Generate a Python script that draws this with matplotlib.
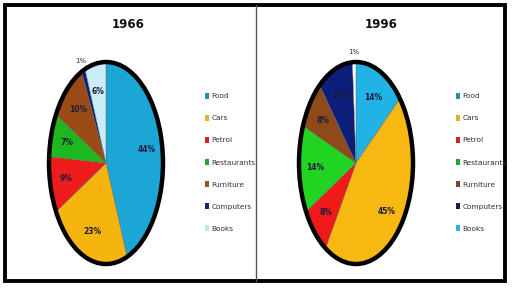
import matplotlib
matplotlib.use("Agg")
import matplotlib.pyplot as plt
from matplotlib.patches import Rectangle, Circle, Patch

categories = ["Food", "Cars", "Petrol", "Restaurants", "Furniture", "Computers", "Books"]
values_1966 = [44, 23, 9, 7, 10, 1, 6]
values_1996 = [14, 45, 8, 14, 8, 10, 1]
titles = ["1966", "1996"]

colors_1966 = ["#1ba6d6", "#f5b50e", "#ee1c1c", "#1eb81e", "#9a4a17", "#0b1e78", "#c9ecf6"]
colors_1996 = ["#22b3e6", "#f7b812", "#f01a1a", "#22d422", "#8f4a1c", "#0b1e7a", "#f4f9fb"]
legend_1966 = ["#1f8fb5", "#e2b32a", "#d32323", "#25a52f", "#9b5428", "#102a72", "#bfe6ee"]
legend_1996 = ["#2b8aa6", "#e3b02e", "#cf2323", "#26a332", "#7c4428", "#14205e", "#2bb6dc"]

W, H = 512, 288
fig = plt.figure(figsize=(W / 100, H / 100), dpi=100)
fig.patch.set_facecolor("white")

FONT = ["DejaVu Sans"]

def px_axes(cx, cy, rx, ry, pad=1.15):
    w = 2 * rx * pad
    h = 2 * ry * pad
    return fig.add_axes([(cx - w / 2) / W, (H - cy - h / 2) / H, w / W, h / H])

def draw(cx, title, values, colors, legcolors, legx, title_x):
    ax = px_axes(cx, 163, 57, 101)
    wedges, texts, autotexts = ax.pie(
        values, colors=colors, startangle=90, counterclock=False,
        autopct=lambda p: f"{p:.0f}%", pctdistance=0.72,
        wedgeprops=dict(linewidth=0.3, edgecolor="#666666"),
        textprops=dict(fontsize=5.5, fontweight="bold", color="#1c1c3c", family=FONT))
    ax.set_aspect("auto")
    ax.set_xlim(-1.15, 1.15)
    ax.set_ylim(-1.15, 1.15)
    ax.add_patch(Circle((0, 0), 1.0, fill=False, edgecolor="black", linewidth=3.2, zorder=5))
    for v, t in zip(values, autotexts):
        if v <= 1:
            x, y = t.get_position()
            r = (x * x + y * y) ** 0.5
            t.set_position((x / r * 1.1, y / r * 1.1))
            t.set_fontweight("normal")
            t.set_color("#333333")
            t.set_fontsize(5)
    ax.axis("off")
    fig.text(title_x / W, 1 - 25 / H, title, ha="center", va="center",
             fontsize=8.5, fontweight="bold", family=FONT, color="#111111")
    handles = [Patch(facecolor=c, edgecolor="none") for c in legcolors]
    leg = fig.legend(handles, categories, loc="upper left",
                     bbox_to_anchor=(legx / W, 1 - 93 / H), frameon=False,
                     handlelength=0.6, handleheight=0.8,
                     handletextpad=0.3, labelspacing=2.13, borderpad=0, borderaxespad=0,
                     prop=dict(family=FONT, size=5.3))
    for t in leg.get_texts():
        t.set_color("#333333")

draw(106, titles[0], values_1966, colors_1966, legend_1966, 205, 128)
draw(356, titles[1], values_1996, colors_1996, legend_1996, 456, 381)

# frame and divider
fig.add_artist(Rectangle((5 / W, 7 / H), 500 / W, 276 / H, transform=fig.transFigure,
                         fill=False, edgecolor="black", linewidth=2.8))
fig.add_artist(plt.Line2D([256 / W, 256 / W], [7 / H, 283 / H], transform=fig.transFigure,
                          color="#555555", linewidth=1.0))

fig.savefig("out.png", dpi=100, facecolor="white")
